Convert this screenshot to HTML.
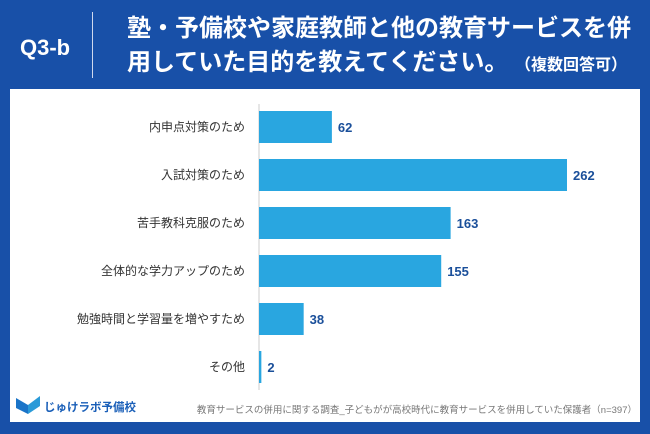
<!DOCTYPE html>
<html><head><meta charset="utf-8"><style>
body{margin:0;width:650px;height:434px;background:#1850a8;font-family:"Liberation Sans","Noto Sans CJK JP",sans-serif;overflow:hidden;position:relative}
.q{position:absolute;left:20px;top:35px;color:#fff;font-size:22px;font-weight:bold}
.sep{position:absolute;left:92px;top:12px;width:1px;height:66px;background:#cfd9ee}
.t{position:absolute;left:127px;top:12px;color:#fff;font-size:24px;font-weight:bold;line-height:34px;white-space:nowrap}
.t small{font-size:16px}
.panel{position:absolute;left:10px;top:89px;width:630px;height:333px;background:#fff}
</style></head><body>
<div class="q">Q3-b</div>
<div class="sep"></div>
<div class="t">塾・予備校や家庭教師と他の教育サービスを併<br>用していた目的を教えてください。 <small>（複数回答可）</small></div>
<div class="panel"></div>
<svg width="650" height="434" style="position:absolute;left:0;top:0">
<g id="g"></g>
<g>
<path d="M16 398 L28 405 L28 414 L16 408 Z" fill="#1a74c8"/><path d="M28 405 L40 396 L40 406 L28 414 Z" fill="#2a9ad8"/>
<text x="44" y="411" font-size="11.5" font-weight="bold" fill="#1a5fb8">じゅけラボ予備校</text></g>
<text x="637" y="413" font-size="9.5" fill="#777" text-anchor="end">教育サービスの併用に関する調査_子どもがが高校時代に教育サービスを併用していた保護者（n=397）</text>
</svg>
<script>
const categories=["内申点対策のため","入試対策のため","苦手教科克服のため","全体的な学力アップのため","勉強時間と学習量を増やすため","その他"];
const values=[62,262,163,155,38,2];
const x0=259,k=308/262,y0=127,step=48,bh=32;
const xs=v=>x0+v*k, ys=i=>y0+i*step;
const g=document.getElementById('g'),NS="http://www.w3.org/2000/svg";
const ax=document.createElementNS(NS,'line');


ax.setAttribute('x1',x0);ax.setAttribute('x2',x0);ax.setAttribute('y1',104);ax.setAttribute('y2',390);ax.setAttribute('stroke','#ccc');
g.appendChild(ax);
categories.forEach((c,i)=>{
 const r=document.createElementNS(NS,'rect');
 
 
 r.setAttribute('x',x0);r.setAttribute('y',ys(i)-bh/2);r.setAttribute('width',xs(values[i])-x0);r.setAttribute('height',bh);r.setAttribute('fill','#29a6e0');
 g.appendChild(r);
 const l=document.createElementNS(NS,'text');
 
 
 l.setAttribute('x',245);l.setAttribute('y',ys(i)+4);l.setAttribute('text-anchor','end');l.setAttribute('font-size','12');l.setAttribute('fill','#333');
 l.textContent=c;g.appendChild(l);
 const v=document.createElementNS(NS,'text');
 
 
 v.setAttribute('x',xs(values[i])+6);v.setAttribute('y',ys(i)+5);v.setAttribute('font-size','13');v.setAttribute('font-weight','bold');v.setAttribute('fill','#1a4f9a');
 v.textContent=values[i];g.appendChild(v);
});
</script>
</body></html>
